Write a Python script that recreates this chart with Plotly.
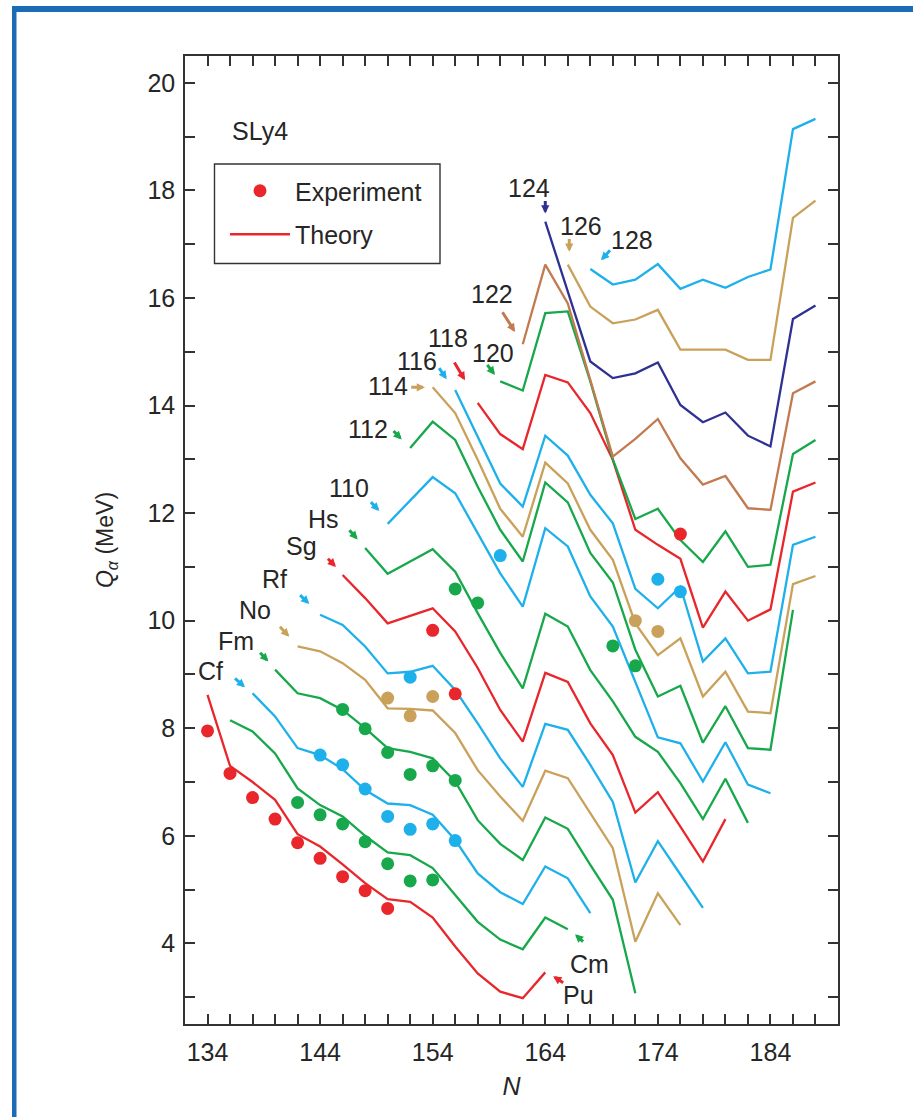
import plotly.graph_objects as go

# ---------------------------------------------------------------------------
# Theory (SLy4): Q_alpha in MeV at even neutron numbers N, one chain per Z
# ---------------------------------------------------------------------------
pu_n0, pu_q = 134, [8.62, 7.30, 7.00, 6.67, 6.03, 5.80, 5.47, 5.12, 4.82, 4.77,
                    4.48, 3.94, 3.44, 3.10, 2.98, 3.46]
cm_n0, cm_q = 136, [8.15, 7.94, 7.53, 6.88, 6.57, 6.36, 6.00, 5.69, 5.64, 5.40,
                    4.90, 4.40, 4.07, 3.89, 4.48, 4.26]
cf_n0, cf_q = 138, [8.65, 8.22, 7.63, 7.50, 7.24, 6.85, 6.60, 6.57, 6.39, 5.92,
                    5.30, 4.95, 4.73, 5.43, 5.21, 4.56]
fm_n0, fm_q = 140, [9.09, 8.65, 8.56, 8.34, 8.00, 7.63, 7.56, 7.44, 7.01, 6.29,
                    5.85, 5.55, 6.34, 6.13, 5.46, 4.81, 3.07]
no_n0, no_q = 142, [9.52, 9.43, 9.21, 8.90, 8.37, 8.36, 8.33, 7.91, 7.22, 6.73,
                    6.28, 7.21, 7.07, 6.42, 5.77, 4.03, 4.93, 4.34]
rf_n0, rf_q = 144, [10.11, 9.92, 9.52, 9.02, 9.05, 9.16, 8.71, 8.09, 7.44, 6.91,
                    8.08, 7.97, 7.32, 6.63, 5.13, 5.90, 5.28, 4.66]
sg_n0, sg_q = 146, [10.85, 10.42, 9.95, 10.09, 10.23, 9.80, 9.12, 8.34, 7.75, 9.03,
                    8.86, 8.09, 7.50, 6.43, 6.81, 6.17, 5.52, 6.31]
hs_n0, hs_q = 148, [11.35, 10.87, 11.10, 11.33, 10.91, 10.14, 9.40, 8.74, 10.13, 9.89,
                    9.08, 8.50, 7.84, 7.56, 6.98, 6.31, 7.06, 6.24]
z110_n0, z110_q = 150, [11.80, 12.24, 12.67, 12.37, 11.63, 10.88, 10.26, 11.72, 11.38,
                        10.45, 9.89, 8.85, 7.83, 7.72, 7.01, 7.74, 6.95, 6.79]
z112_n0, z112_q = 152, [13.21, 13.70, 13.36, 12.49, 11.69, 11.10, 12.57, 12.20, 11.26,
                        10.71, 9.46, 8.59, 8.79, 7.73, 8.41, 7.63, 7.60, 10.20]
z114_n0, z114_q = 154, [14.34, 13.86, 12.99, 12.08, 11.56, 12.94, 12.55, 11.69, 11.13,
                        9.95, 9.36, 9.67, 8.59, 9.05, 8.31, 8.28, 10.68, 10.83]
z116_n0, z116_q = 156, [14.29, 13.43, 12.55, 12.12, 13.44, 13.07, 12.34, 11.81, 10.59,
                        10.23, 10.63, 9.24, 9.67, 9.02, 9.05, 11.41, 11.56]
z118_n0, z118_q = 158, [14.05, 13.47, 13.19, 14.57, 14.43, 13.86, 12.99, 11.69, 11.41,
                        11.15, 9.87, 10.54, 10.00, 10.21, 12.40, 12.57]
z120_n0, z120_q = 160, [14.45, 14.28, 15.72, 15.75, 14.45, 13.00, 11.89, 12.08, 11.50,
                        11.09, 11.66, 11.00, 11.04, 13.10, 13.36]
z122_n0, z122_q = 162, [15.14, 16.62, 15.90, 14.45, 13.05, 13.38, 13.75, 13.02, 12.53,
                        12.69, 12.09, 12.06, 14.23, 14.45]
z124_n0, z124_q = 164, [17.42, 16.12, 14.82, 14.51, 14.60, 14.80, 14.01, 13.69, 13.87,
                        13.44, 13.24, 15.61, 15.86]
z126_n0, z126_q = 166, [16.62, 15.84, 15.53, 15.60, 15.78, 15.04, 15.04, 15.04, 14.85,
                        14.85, 17.49, 17.81]
z128_n0, z128_q = 168, [16.54, 16.25, 16.34, 16.63, 16.17, 16.34, 16.19, 16.39, 16.53,
                        19.14, 19.33]

# ---------------------------------------------------------------------------
# Experiment: measured Q_alpha, grouped by marker colour
# ---------------------------------------------------------------------------
red_exp_n = [134, 136, 138, 140, 142, 144, 146, 148, 150, 154, 156, 176]
red_exp_q = [7.95, 7.16, 6.71, 6.31, 5.87, 5.58, 5.24, 4.98, 4.65, 9.82, 8.64, 11.61]
green_exp_n = [142, 144, 146, 148, 150, 152, 154, 146, 148, 150, 152, 154, 156,
               156, 158, 170, 172]
green_exp_q = [6.62, 6.39, 6.22, 5.89, 5.48, 5.16, 5.18, 8.35, 7.99, 7.55, 7.14, 7.30,
               7.03, 10.59, 10.33, 9.53, 9.16]
blue_exp_n = [144, 146, 148, 150, 152, 154, 156, 152, 160, 174, 176]
blue_exp_q = [7.50, 7.32, 6.87, 6.36, 6.12, 6.22, 5.91, 8.95, 11.21, 10.77, 10.54]
tan_exp_n = [150, 152, 154, 172, 174]
tan_exp_q = [8.56, 8.23, 8.59, 10.00, 9.80]

RED, GREEN, BLUE, TAN = "#e8262b", "#17a84b", "#1eb0ea", "#c9a15a"
BROWN, NAVY = "#c27a50", "#2e3192"
INK = "#262626"
AXIS = "#333333"
FONT = "Liberation Sans, Arial, Helvetica, sans-serif"
FS = 25

chains = [
    (pu_n0, pu_q, RED), (cm_n0, cm_q, GREEN), (cf_n0, cf_q, BLUE),
    (fm_n0, fm_q, GREEN), (no_n0, no_q, TAN), (rf_n0, rf_q, BLUE),
    (sg_n0, sg_q, RED), (hs_n0, hs_q, GREEN), (z110_n0, z110_q, BLUE),
    (z112_n0, z112_q, GREEN), (z114_n0, z114_q, TAN), (z116_n0, z116_q, BLUE),
    (z118_n0, z118_q, RED), (z120_n0, z120_q, GREEN), (z122_n0, z122_q, BROWN),
    (z124_n0, z124_q, NAVY), (z126_n0, z126_q, TAN), (z128_n0, z128_q, BLUE),
]

fig = go.Figure()

for i, (n0, q, col) in enumerate(chains):
    n = list(range(n0, n0 + 2 * len(q), 2))
    fig.add_trace(go.Scatter(
        x=n, y=q, mode="lines",
        line=dict(color=col, width=2.3),
        name="Theory", showlegend=(i == 0), legendgroup="th", legendrank=2,
        hoverinfo="skip",
    ))

for nn, qq, col, show in [(red_exp_n, red_exp_q, RED, True),
                          (green_exp_n, green_exp_q, GREEN, False),
                          (blue_exp_n, blue_exp_q, BLUE, False),
                          (tan_exp_n, tan_exp_q, TAN, False)]:
    fig.add_trace(go.Scatter(
        x=nn, y=qq, mode="markers",
        marker=dict(color=col, size=13, line=dict(width=0)),
        name="Experiment", showlegend=show, legendgroup="exp", legendrank=1,
        hoverinfo="skip",
    ))

# Element / proton-number labels and their pointer arrows
labels = [
    ("Cf", 134.29, 9.06), ("Fm", 136.51, 9.62), ("No", 138.22, 10.19),
    ("Rf", 139.99, 10.77), ("Sg", 142.33, 11.39), ("Hs", 144.26, 11.89),
    ("110", 146.57, 12.47), ("112", 148.28, 13.56), ("114", 150.06, 14.36),
    ("116", 152.65, 14.82), ("118", 155.36, 15.25), ("120", 159.36, 14.97),
    ("122", 159.24, 16.07), ("124", 162.55, 18.04), ("126", 167.17, 17.34),
    ("128", 171.70, 17.08), ("Cm", 167.93, 3.62), ("Pu", 166.99, 3.04),
    ("SLy4", 138.66, 19.11),
]
arrows = [
    (137.33, 8.76, -10, -9, BLUE), (139.40, 9.24, -8.3, -9, GREEN),
    (141.26, 9.70, -9.3, -10, TAN), (143.04, 10.31, -9.3, -9, BLUE),
    (145.41, 11.00, -8.3, -8.4, RED), (147.34, 11.51, -8.4, -9.3, GREEN),
    (149.26, 12.04, -8.6, -9, BLUE), (151.25, 13.37, -8.4, -8.6, GREEN),
    (153.32, 14.34, -13.3, 0, TAN), (155.24, 14.49, -7.4, -11, BLUE),
    (156.87, 14.47, -10, -16.7, RED), (159.53, 14.57, -7.7, -10, GREEN),
    (161.31, 15.37, -11.7, -18.4, BROWN), (164.0, 17.57, 0, -12.3, NAVY),
    (166.13, 16.86, 0, -12.4, TAN), (168.95, 16.70, 9, -10, BLUE),
    (166.64, 4.17, 8.3, 7.7, GREEN), (164.70, 3.39, 10, 6.7, RED),
]

annotations = []
for txt, x, y in labels:
    annotations.append(dict(
        x=x, y=y, xref="x", yref="y", text=txt, showarrow=False,
        xanchor="center", yanchor="middle",
        font=dict(family=FONT, size=FS, color=INK),
    ))
for x, y, ax, ay, col in arrows:
    annotations.append(dict(
        x=x, y=y, xref="x", yref="y", text="", showarrow=True,
        ax=ax * 1.15, ay=ay * 1.15, arrowhead=2, arrowsize=0.55,
        arrowwidth=3.0, arrowcolor=col, standoff=0, startstandoff=0,
    ))

# Page geometry helpers (pixel -> paper fraction)
L, T = 185.0, 56.0
PW, PH = 653.0, 968.0
FRAME = "#1b6cb5"


def px(v):
    return (v - L) / PW


def py(v):
    return (T + PH - v) / PH


shapes = [
    # blue panel frame along the top and left edges
    dict(type="rect", xref="paper", yref="paper", x0=px(12), x1=px(16.5),
         y0=py(1117), y1=py(6), fillcolor=FRAME, line=dict(width=0), layer="above"),
    dict(type="rect", xref="paper", yref="paper", x0=px(12), x1=px(913),
         y0=py(12), y1=py(6), fillcolor=FRAME, line=dict(width=0), layer="above"),
    # legend box
    dict(type="rect", xref="paper", yref="paper", x0=px(214.5), x1=px(440),
         y0=py(263.5), y1=py(164), fillcolor="white",
         line=dict(color=AXIS, width=1.4), layer="below"),
]

axis_common = dict(
    showgrid=False, zeroline=False, showline=True, linecolor=AXIS,
    linewidth=1.5, mirror="allticks", ticks="inside", ticklen=10,
    tickwidth=1.5, tickcolor=AXIS,
    tickfont=dict(family=FONT, size=FS, color=INK),
)

fig.update_layout(
    width=913, height=1117,
    margin=dict(l=185, r=75, t=56, b=93),
    paper_bgcolor="white", plot_bgcolor="rgba(0,0,0,0)",
    font=dict(family=FONT, size=FS, color=INK),
    xaxis=dict(
        range=[132, 190], tick0=134, dtick=10,
        minor=dict(dtick=2, tick0=134, ticks="inside", ticklen=10,
                   tickwidth=1.5, tickcolor=AXIS),
        title=dict(text="<i>N</i>", font=dict(family=FONT, size=FS, color=INK),
                   standoff=13),
        ticklabelstandoff=5,
        **axis_common,
    ),
    yaxis=dict(
        range=[2.5, 20.5], tick0=4, dtick=2,
        minor=dict(dtick=1, ticks="inside", ticklen=10,
                   tickwidth=1.5, tickcolor=AXIS),
        title=dict(text="<i>Q</i><sub><i>α</i></sub> (MeV)",
                   font=dict(family=FONT, size=23, color=INK), standoff=27),
        ticklabelstandoff=3,
        **axis_common,
    ),
    legend=dict(
        x=px(225), y=py(168), xanchor="left", yanchor="top",
        bgcolor="rgba(0,0,0,0)", borderwidth=0,
        font=dict(family=FONT, size=FS, color=INK),
        traceorder="grouped", tracegroupgap=8, itemwidth=60,
    ),
    annotations=annotations,
    shapes=shapes,
    showlegend=True,
)

fig.write_html("out.html")
